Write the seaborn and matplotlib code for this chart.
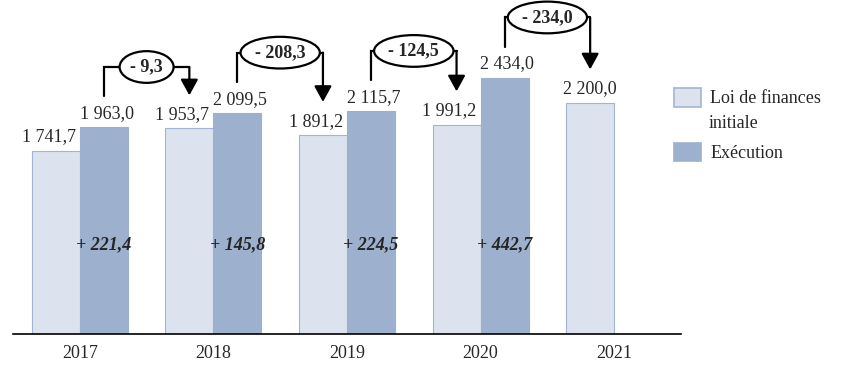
import matplotlib.pyplot as plt
import seaborn as sns
import pandas as pd
from matplotlib.patches import Patch

# données (M€)
annees = ['2017', '2018', '2019', '2020', '2021']
lfi = [1741.7, 1953.7, 1891.2, 1991.2, 2200.0]
execution = [1963.0, 2099.5, 2115.7, 2434.0]
surexec = [221.4, 145.8, 224.5, 442.7]
ecarts = [-9.3, -208.3, -124.5, -234.0]
series = ['Loi de finances initiale', 'Exécution']

c_lfi = '#DCE3EE'
c_lfi_bord = '#A3B4D2'
c_exe = '#9DB0CE'


def fr(v):
    return f"{v:,.1f}".replace(',', ' ').replace('.', ',')


rows = [(a, series[0], v) for a, v in zip(annees, lfi)]
rows += [(a, series[1], v) for a, v in zip(annees, execution)]
df = pd.DataFrame(rows, columns=['annee', 'serie', 'montant'])

sns.set_style('white')
plt.rcParams['font.family'] = ['Liberation Serif', 'DejaVu Serif']

fig = plt.figure(figsize=(8.48, 3.74), dpi=100)
ax = fig.add_axes([13 / 848, 40 / 374, 668 / 848, 334 / 374])

sns.barplot(data=df, x='annee', y='montant', hue='serie', order=annees,
            hue_order=series, palette=[c_lfi, c_exe], width=0.72,
            saturation=1, ax=ax, legend=False)

bars_lfi = list(ax.containers[0])
bars_exe = [b for b in ax.containers[1] if b.get_height() == b.get_height()]
for b in bars_lfi:
    b.set_edgecolor(c_lfi_bord)
    b.set_linewidth(0.8)
for b in bars_exe:
    b.set_edgecolor(c_exe)
    b.set_linewidth(0.8)

ax.set_xlim(-0.5, 4.5)
ax.set_ylim(0, 3175)
ax.set_xlabel('')
ax.set_ylabel('')
ax.set_yticks([])
sns.despine(ax=ax, left=True)
ax.spines['bottom'].set_color('black')
ax.spines['bottom'].set_linewidth(1.2)
ax.tick_params(axis='x', length=0, pad=8, labelsize=13)

# étiquettes de valeurs
for i, b in enumerate(bars_lfi):
    dx = -5 if i < len(bars_exe) else 0
    ax.annotate(fr(lfi[i]), (b.get_x() + b.get_width() / 2, b.get_height()),
                xytext=(dx, 10), textcoords='offset points',
                ha='center', va='center', fontsize=13)
for i, b in enumerate(bars_exe):
    ax.annotate(fr(execution[i]), (b.get_x() + b.get_width() / 2, b.get_height()),
                xytext=(2, 10), textcoords='offset points',
                ha='center', va='center', fontsize=13)
    ax.text(b.get_x() + b.get_width() / 2, 850, '+ ' + fr(surexec[i]),
            ha='center', va='center', fontsize=13, style='italic',
            fontweight='bold')

# écarts exécution N / LFI N+1
for i, e in enumerate(ecarts):
    be, bl = bars_exe[i], bars_lfi[i + 1]
    x0 = be.get_x() + be.get_width() / 2
    x1 = bl.get_x() + bl.get_width() / 2
    y0 = execution[i] + 295
    niveau = execution[i] + 575
    ytip = lfi[i + 1] + 315
    ax.plot([x0, x0, x1], [y0, niveau, niveau], color='black', lw=1.6,
            solid_joinstyle='miter', zorder=4)
    ax.annotate('', xy=(x1, ytip), xytext=(x1, niveau),
                arrowprops=dict(arrowstyle='-|>,head_length=0.6,head_width=0.33',
                                color='black', lw=1.6, shrinkA=0, shrinkB=0,
                                mutation_scale=16), zorder=4)
    ax.text((x0 + x1) / 2, niveau, '- ' + fr(abs(e)), ha='center', va='center',
            fontsize=13, fontweight='bold', zorder=5,
            bbox=dict(boxstyle='ellipse,pad=0.15', fc='white', ec='black', lw=1.6))

# légende : la 1re étiquette passe sur deux lignes, poignée alignée sur la 1re
poignees = [Patch(facecolor=c_lfi, edgecolor=c_lfi_bord, linewidth=1.2),
            Patch(facecolor=c_exe, edgecolor=c_exe, linewidth=1.2)]
leg = fig.legend(poignees, ['Loi de finances', series[1]], loc='upper left',
                 bbox_to_anchor=(674 / 848, 1 - 88 / 374),
                 frameon=False, fontsize=13, handlelength=1.5, handleheight=1.2,
                 handletextpad=0.5, labelspacing=1.95, borderpad=0, borderaxespad=0)
fig.text(709 / 848, 1 - 123 / 374, 'initiale', fontsize=13, va='center', ha='left')

fig.savefig('out.png', dpi=100)
